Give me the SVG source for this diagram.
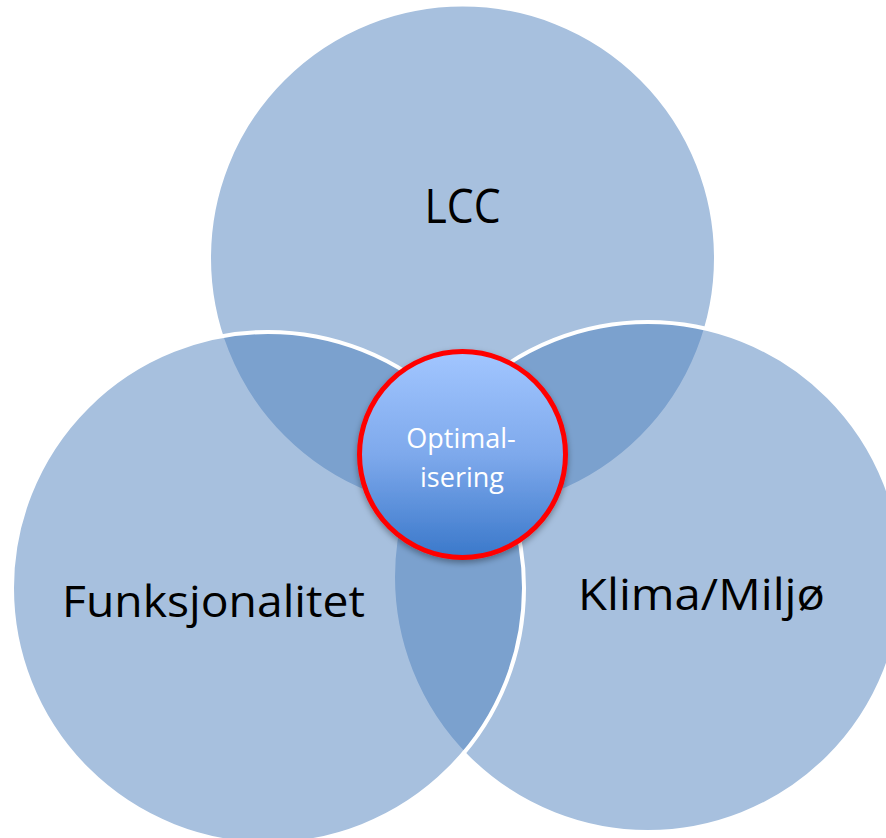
<svg xmlns="http://www.w3.org/2000/svg" width="886" height="838" viewBox="0 0 886 838">
<defs>
<linearGradient id="g" x1="0" y1="0" x2="0" y2="1">
<stop offset="0" stop-color="#A2C6FF"/>
<stop offset="0.5" stop-color="#7EA9EC"/>
<stop offset="1" stop-color="#3A78CA"/>
</linearGradient>
<filter id="sh" x="-20%" y="-20%" width="140%" height="150%">
<feDropShadow dx="0" dy="3" stdDeviation="3" flood-color="#000" flood-opacity="0.35"/>
</filter>
</defs>
<style>
.big{fill:#4F81BD;fill-opacity:0.5;stroke:#FFFFFF;stroke-width:4}
.lbl{font-family:"Open Sans","Liberation Sans",sans-serif;fill:#000;text-anchor:middle}
.in{font-family:"Open Sans","Liberation Sans",sans-serif;fill:#FFFFFF;font-size:27px;text-anchor:middle}
</style>
<rect width="886" height="838" fill="#FFFFFF"/>
<g id="lcc">
<circle class="big" cx="462.5" cy="258" r="253.5"/>
<text class="lbl" x="462.5" y="223" font-size="48" textLength="76" lengthAdjust="spacingAndGlyphs">LCC</text>
</g>
<g id="klima">
<circle class="big" cx="648" cy="577" r="255"/>
<text class="lbl" x="701.5" y="610" font-size="44" textLength="247" lengthAdjust="spacingAndGlyphs">Klima/Miljø</text>
</g>
<g id="funksjonalitet">
<circle class="big" cx="268" cy="588" r="256"/>
<text class="lbl" x="213.5" y="617" font-size="44" textLength="303" lengthAdjust="spacingAndGlyphs">Funksjonalitet</text>
</g>
<g id="connectors"></g>
<g id="optimalisering">
<circle cx="462.5" cy="454.5" r="103" fill="url(#g)" stroke="#FF0000" stroke-width="5" filter="url(#sh)"/>
<text class="in" x="461" y="448">Optimal-</text>
<text class="in" x="462" y="487">isering</text>
</g>
</svg>
